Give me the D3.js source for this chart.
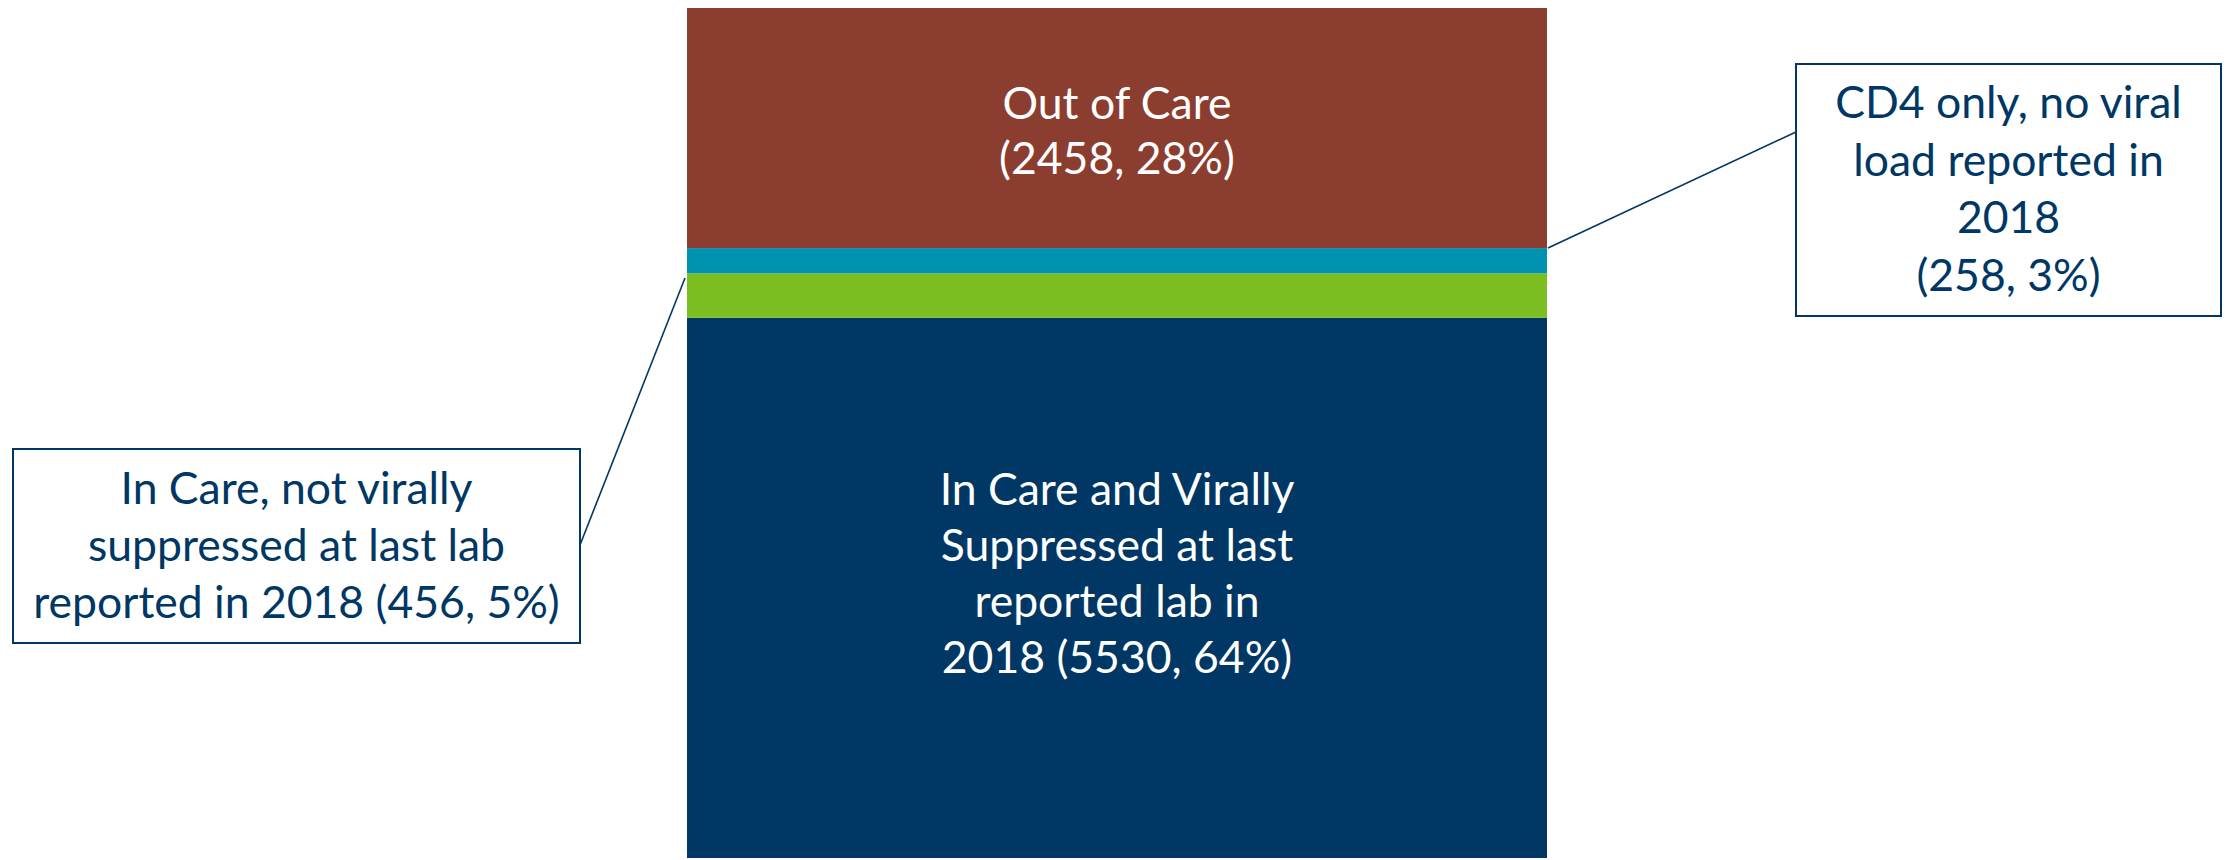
<!DOCTYPE html>
<html>
<head>
<meta charset="utf-8">
<style>
body{margin:0;background:#fff;}
svg text{font-family:Lato,"Open Sans",sans-serif;}
</style>
</head>
<body>
<svg id="chart" width="2226" height="860"></svg>
<script src="https://d3js.org/d3.v7.min.js"></script>
<script>
// segments bottom to top
var categories = ['In Care and Virally Suppressed','In Care, not virally suppressed','CD4 only, no viral load','Out of Care'];
var counts = [5530, 456, 258, 2458];
var percents = [64, 5, 3, 28];
var colors = ['#003764','#7bbe22','#0092af','#8b3e2f'];
var labelLines = [
	['In Care and Virally','Suppressed at last','reported lab in','2018'],
	['In Care, not virally','suppressed at last lab','reported in 2018'],
	['CD4 only, no viral','load reported in','2018',''],
	['Out of Care','']
];

var svg = d3.select('#chart');
var total = d3.sum(counts);

var x = d3.scaleBand().domain(['2018']).range([687,1547]).padding(0);
var y = d3.scaleLinear().domain([0,total]).range([858,8]);

var segs = [];
var acc = 0;
for(var i=0;i<counts.length;i++){
	var stat = '(' + counts[i] + ', ' + percents[i] + '%)';
	var lines = labelLines[i].slice();
	var last = lines.length-1;
	lines[last] = lines[last] ? lines[last] + ' ' + stat : stat;
	segs.push({i:i,name:categories[i],y0:acc,y1:acc+counts[i],color:colors[i],lines:lines});
	acc += counts[i];
}

svg.selectAll('rect.seg')
	.data(segs)
	.enter()
	.append('rect')
	.attr('class','seg')
	.attr('x',x('2018'))
	.attr('width',x.bandwidth())
	.attr('y',function(d){return y(d.y1);})
	.attr('height',function(d){return y(d.y0)-y(d.y1);})
	.attr('fill',function(d){return d.color;});

var fs = 44.5;
var navy = '#003764';
var cx = x('2018') + x.bandwidth()/2;

function drawLines(g, lines, tx, firstY, step, fill){
	g.selectAll('text')
		.data(lines)
		.enter()
		.append('text')
		.attr('x',tx)
		.attr('y',function(d,k){return firstY + k*step;})
		.attr('text-anchor','middle')
		.style('font-size',fs+'px')
		.style('fill',fill)
		.text(function(d){return d;});
}

// inside labels
drawLines(svg.append('g'), segs[3].lines, cx, 119, 55, '#fff');
drawLines(svg.append('g'), segs[0].lines, cx, 505, 56, '#fff');

// callout boxes
var boxes = [
	{seg:1, x:13, y:449, w:567, h:194, firstY:504, step:57, from:[685,278], to:[580,545]},
	{seg:2, x:1796, y:64, w:425, h:252, firstY:118, step:57.5, from:[1548,248], to:[1796,132]}
];
boxes.forEach(function(b){
	svg.append('line')
		.attr('x1',b.from[0]).attr('y1',b.from[1])
		.attr('x2',b.to[0]).attr('y2',b.to[1])
		.attr('stroke',navy).attr('stroke-width',1.6);
	svg.append('rect')
		.attr('x',b.x).attr('y',b.y)
		.attr('width',b.w).attr('height',b.h)
		.attr('fill','#fff')
		.attr('stroke',navy).attr('stroke-width',2);
	drawLines(svg.append('g'), segs[b.seg].lines, b.x+b.w/2, b.firstY, b.step, navy);
});
</script>
</body>
</html>
